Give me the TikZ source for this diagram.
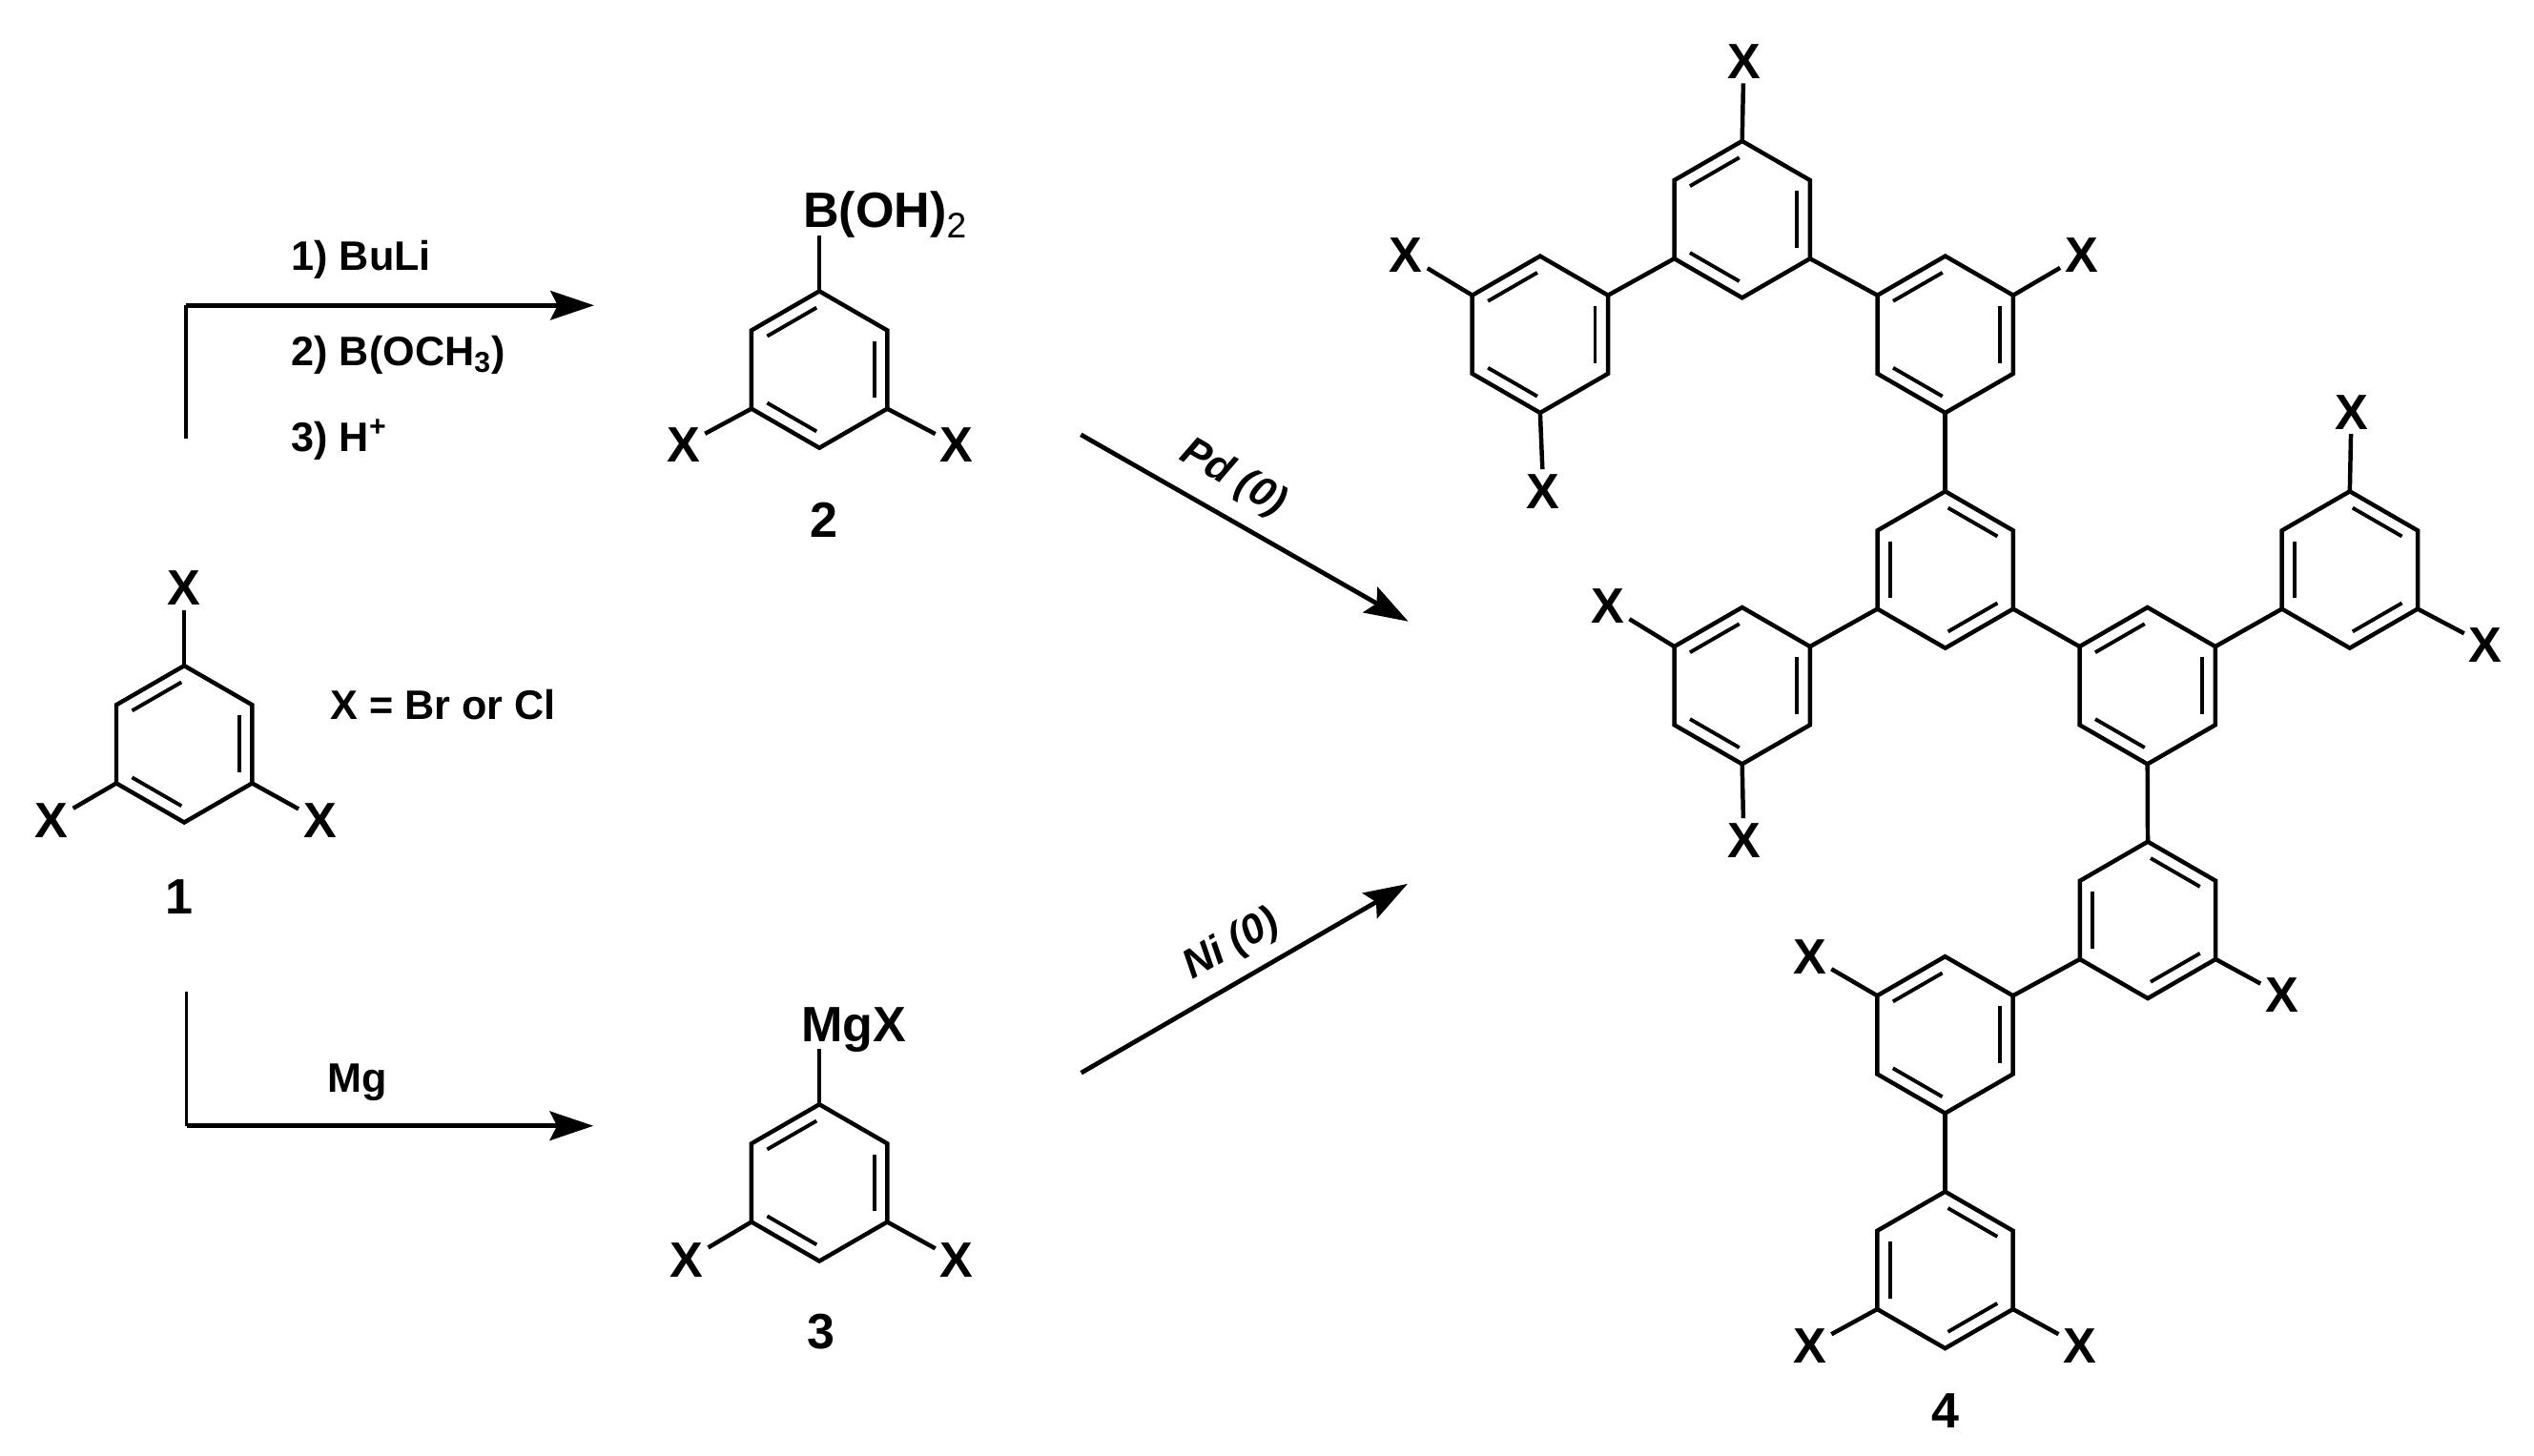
\documentclass[tikz,border=0pt]{standalone}
\usepackage{fontspec}
\setmainfont{Liberation Sans}
\usetikzlibrary{arrows.meta,calc}
\tikzset{
    bond/.style={line width=1.5pt, line join=miter},
    inbond/.style={line width=1.3pt, shorten <=0.04cm, shorten >=0.04cm},
    atom/.style={font=\fontsize{17.5}{20}\selectfont\bfseries, inner sep=1.5pt},
    label/.style={font=\fontsize{14.5}{17}\selectfont\bfseries, inner sep=0pt},
    leg/.style={line width=1.25pt},
    rxn/.style={line width=1.6pt, -{Stealth[length=0.54cm, width=0.36cm, inset=0.09cm]}}
}
\newcommand{\ringbase}[3]{
    \coordinate (#1) at (#2,#3);
    \foreach \i in {1,...,6} \coordinate (#1-\i) at ($(#1)+(-150+60*\i:48.5)$);
    \draw[bond] (#1-1) to (#1-2) to (#1-3) to (#1-4) to (#1-5) to (#1-6) -- cycle;
}
\newcommand{\arylup}[3]{
    \ringbase{#1}{#2}{#3}
    \draw[inbond] ($(#1)!0.81!(#1-6)$) to ($(#1)!0.81!(#1-1)$);
    \draw[inbond] ($(#1)!0.81!(#1-2)$) to ($(#1)!0.81!(#1-3)$);
    \draw[inbond] ($(#1)!0.81!(#1-4)$) to ($(#1)!0.81!(#1-5)$);
}
\newcommand{\aryldown}[3]{
    \ringbase{#1}{#2}{#3}
    \draw[inbond] ($(#1)!0.81!(#1-1)$) to ($(#1)!0.81!(#1-2)$);
    \draw[inbond] ($(#1)!0.81!(#1-3)$) to ($(#1)!0.81!(#1-4)$);
    \draw[inbond] ($(#1)!0.81!(#1-5)$) to ($(#1)!0.81!(#1-6)$);
}
\newcommand{\lowtwo}{\raisebox{-0.4ex}{\fontsize{12.5}{14}\selectfont\mdseries 2}}
\begin{document}
\begin{tikzpicture}[x=0.02cm, y=-0.02cm]
    %% Background
    \useasboundingbox (0,0) rectangle (1568,900.6);
    %% Rings
    \foreach \name/\px/\py in {ringone/114/460.5, ringtwo/507/228.7, ringthree/507/732,
        ringA/1078/135.8, ringB/953/207, ringC/1203.7/207, ringE/1078/424.4, ringF/1328.8/424.4, ringI/1203.6/640.5}
        \arylup{\name}{\px}{\py};
    \foreach \name/\px/\py in {ringD/1203.7/352.6, ringG/1454/352.6, ringH/1329/569.4, ringJ/1203.6/786}
        \aryldown{\name}{\px}{\py};
    %% Links
    \draw[bond] (ringA-5) to (ringB-2);
    \draw[bond] (ringA-3) to (ringC-6);
    \draw[bond] (ringC-4) to (ringD-1);
    \draw[bond] (ringD-5) to (ringE-2);
    \draw[bond] (ringD-3) to (ringF-6);
    \draw[bond] (ringF-2) to (ringG-5);
    \draw[bond] (ringF-4) to (ringH-1);
    \draw[bond] (ringH-5) to (ringI-2);
    \draw[bond] (ringI-4) to (ringJ-1);
    %% Substituents
    \foreach \name/\vert/\px/\py in {
        ringone/1/114/364, ringone/5/32/508, ringone/3/198/508,
        ringtwo/5/423/275.5, ringtwo/3/592/275.5,
        ringthree/5/425/780, ringthree/3/592/780,
        ringA/1/1079/38, ringB/6/870/158, ringB/4/955/304, ringC/2/1288/158,
        ringE/6/995/375, ringE/4/1079/520, ringG/1/1455/255, ringG/3/1538/399,
        ringH/3/1412/616, ringI/6/1120/592, ringJ/5/1120/833, ringJ/3/1287/833}
    {
        \node[atom] (\name x\vert) at (\px,\py) {X};
        \draw[bond] (\name-\vert) to (\name x\vert);
    }
    \node[atom, anchor=base west] (boron) at (494,141) {B(OH)\lowtwo};
    \draw[bond, shorten >=0.09cm] (ringtwo-1) to (ringtwo-1 |- boron.base);
    \node[atom, anchor=base west] (magnesium) at (493,645) {MgX};
    \draw[bond, shorten >=0.08cm] (ringthree-1) to (ringthree-1 |- magnesium.base);
    %% Numbers
    \node[atom] (numone) at (111,555) {1};
    \node[atom] (numtwo) at (509.6,321.6) {2};
    \node[atom] (numthree) at (508,824) {3};
    \node[atom] (numfour) at (1204,873) {4};
    %% Reagents
    \node[label, anchor=west] (buli) at (180,161) {1) BuLi};
    \node[label, anchor=west] (borate) at (180,220) {2) B(OCH\textsubscript{3})};
    \node[label, anchor=west] (proton) at (180,272) {3) H\textsuperscript{+}};
    \node[label] (mg) at (221,670) {Mg};
    \node[label, anchor=west] (halide) at (204,436) {X = Br or Cl};
    \node[label, rotate=-30, font=\fontsize{14.5}{17}\selectfont\bfseries\itshape] (pd) at (763,296) {Pd (0)};
    \node[label, rotate=30, font=\fontsize{14.5}{17}\selectfont\bfseries\itshape] (ni) at (762,585) {Ni (0)};
    %% Arrows
    \coordinate (upstart) at (115,271.6);
    \coordinate (upcorner) at (115,189);
    \coordinate (uptip) at (367.6,189);
    \coordinate (lowstart) at (115.4,614);
    \coordinate (lowcorner) at (115.4,696.8);
    \coordinate (lowtip) at (367.2,696.8);
    \coordinate (pdstart) at (668.8,269);
    \coordinate (pdtip) at (871.4,384.6);
    \coordinate (nistart) at (669,664);
    \coordinate (nitip) at (871,547);
    \draw[leg] (upstart) to (upcorner);
    \draw[rxn] (upcorner) to (uptip);
    \draw[leg] (lowstart) to (lowcorner);
    \draw[rxn] (lowcorner) to (lowtip);
    \draw[rxn] (pdstart) to (pdtip);
    \draw[rxn] (nistart) to (nitip);
\end{tikzpicture}
\end{document}
